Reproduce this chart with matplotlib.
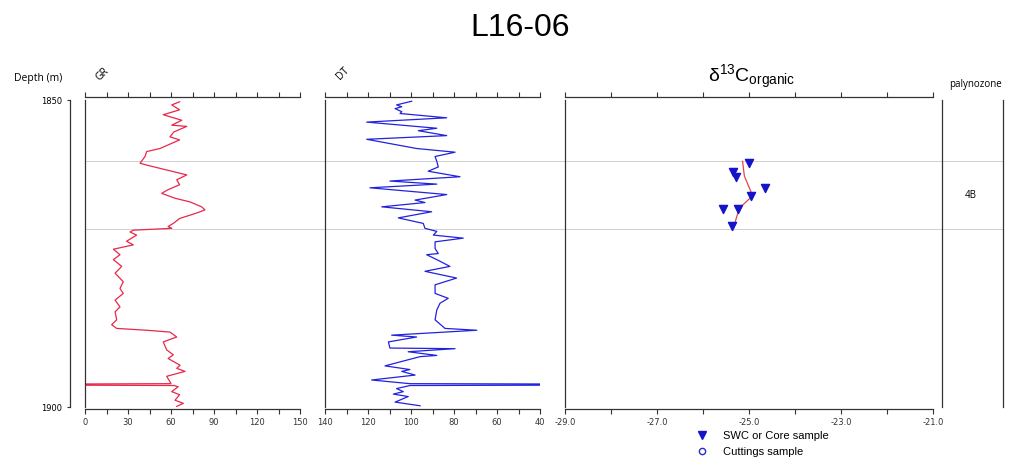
import matplotlib
matplotlib.use('Agg')
import matplotlib.pyplot as plt
from matplotlib.lines import Line2D

# gamma ray log (API) vs depth (m)
gr_depth = [1850.3, 1850.8, 1851.6, 1852.4, 1853.3, 1854.1, 1854.3, 1855.2, 1856.0, 1856.5,
            1857.9, 1858.4, 1859.2, 1860.3, 1860.6, 1861.4, 1862.2, 1863.0, 1863.8, 1864.6,
            1865.2, 1866.0, 1866.6, 1867.4, 1867.9, 1868.4, 1869.3, 1870.1, 1870.6, 1870.9,
            1871.2, 1871.5, 1872.0, 1873.0, 1873.6, 1874.3, 1875.2, 1876.0, 1877.1, 1878.2,
            1879.6, 1880.7, 1881.5, 1882.6, 1883.7, 1884.5, 1885.8, 1886.6, 1887.2, 1887.5,
            1887.8, 1888.6, 1889.4, 1890.7, 1891.5, 1892.1, 1893.2, 1893.7, 1894.2, 1895.0,
            1895.9, 1896.2, 1896.25, 1896.45, 1896.5, 1896.7, 1897.5, 1898.0, 1898.9, 1899.4,
            1899.9]
gr_value = [66, 60.5, 66, 54.6, 67.5, 60.5, 71, 62, 59.3, 66,
            52.3, 43, 41.9, 38.4, 43, 57, 71, 64, 66, 58,
            53.5, 62.8, 73.3, 81.4, 83.7, 78, 66, 61.6, 58, 60.5,
            33.7, 31.4, 36, 29, 33.7, 19.8, 24.4, 19.8, 25.6, 21,
            26.7, 24.4, 26.7, 21, 24.4, 21, 22.1, 18.6, 22.1, 43,
            59.3, 64, 54.6, 57, 61.6, 58, 66.3, 64, 69.8, 57,
            59.3, 60, 0, 0, 62, 65, 60.5, 66, 62.8, 68.6,
            64]

# sonic log (us/ft) vs depth (m)
dt_depth = [1850.2, 1850.8, 1851.1, 1851.4, 1851.9, 1852.2, 1852.9, 1853.6, 1854.6, 1855.0,
            1855.8, 1856.4, 1857.0, 1857.9, 1858.5, 1859.2, 1860.0, 1860.9, 1861.6, 1862.5,
            1863.2, 1863.7, 1864.3, 1865.4, 1866.3, 1866.7, 1867.4, 1868.2, 1869.2, 1870.1,
            1870.9, 1871.4, 1872.0, 1872.5, 1873.1, 1874.2, 1875.0, 1875.2, 1876.0, 1877.1,
            1877.9, 1879.0, 1880.1, 1881.5, 1882.3, 1883.1, 1884.2, 1885.8, 1887.2, 1887.5,
            1888.3, 1888.6, 1889.4, 1890.4, 1890.5, 1891.0, 1891.6, 1891.8, 1893.3, 1893.9,
            1894.2, 1894.8, 1895.6, 1896.2, 1896.25, 1896.45, 1896.5, 1897.0, 1897.5, 1897.9,
            1898.3, 1899.2, 1899.8]
dt_value = [99.7, 106.7, 104.3, 107.4, 104.3, 105.1, 83.4, 120.6, 88, 96.6,
            83.4, 120.6, 111.3, 97.4, 79.5, 88.8, 88, 87.3, 92, 77.2,
            109.8, 88, 119.1, 83.4, 98.1, 93.5, 113.6, 90.4, 105.9, 94.3,
            93.5, 88, 89.6, 75.7, 88.8, 88.8, 87.3, 92.7, 88, 81.9,
            93.5, 78.8, 88.8, 88.8, 82.7, 86.5, 88, 88.8, 84.2, 69.4,
            109, 97.4, 110.5, 109.8, 79.5, 101.3, 88, 95.8, 112.1, 100.5,
            104.3, 98.1, 118.3, 100.5, 40, 40, 100.5, 106.7, 103.6, 108.2,
            101.3, 107.4, 95.8]

# carbon isotopes, SWC / core samples and smoothed trend
swc_depth = [1860.3, 1861.8, 1862.5, 1864.3, 1865.6, 1867.8, 1867.8, 1870.5]
swc_d13c = [-25.0, -25.34, -25.29, -24.65, -24.96, -25.56, -25.25, -25.38]
trend_depth = [1860.0, 1862.4, 1865.6, 1867.6, 1870.6]
trend_d13c = [-25.14, -25.1, -24.92, -25.21, -25.33]

zone_tops = [1860, 1871]
zone_names = ['4B']
zone_mid = [1865.5]

TOP, BOT = 1850, 1900
W, H = 1011, 459
SPINE = '#333333'


def box(x0, x1, y0=100, y1=407):
    return [x0 / W, 1 - y1 / H, (x1 - x0) / W, (y1 - y0) / H]


def log_track(ax, xlim, major, minor, fmt):
    ax.set_ylim(BOT, TOP)
    ax.set_xlim(*xlim)
    ax.patch.set_visible(False)
    ax.spines['right'].set_visible(False)
    ax.spines['top'].set_position(('outward', 2.5))
    ax.spines['bottom'].set_position(('outward', 1.5))
    for s in ax.spines.values():
        s.set_color(SPINE)
        s.set_linewidth(0.9)
    ax.set_yticks([])
    ax.set_xticks(major)
    ax.set_xticks(minor, minor=True)
    ax.set_xticklabels([fmt.format(v) for v in major])
    ax.tick_params(axis='x', which='both', top=True, bottom=True, direction='out',
                   length=3.5, width=0.8, color=SPINE, labelsize=6,
                   labelcolor='#333333', pad=3)


fig = plt.figure(figsize=(W / 100, H / 100), dpi=100)
fig.text(520 / W, 1 - 28 / H, 'L16-06', ha='center', va='center',
         fontsize=23, family='Liberation Sans')

# depth scale
ax_d = fig.add_axes(box(70, 71))
ax_d.set_ylim(BOT, TOP)
ax_d.set_xticks([])
for k in ['top', 'right', 'bottom']:
    ax_d.spines[k].set_visible(False)
ax_d.spines['left'].set_color(SPINE)
ax_d.spines['left'].set_linewidth(0.9)
ax_d.set_yticks([TOP, BOT])
ax_d.tick_params(axis='y', length=2.5, width=0.8, labelsize=6, pad=3, color=SPINE)
fig.text(38 / W, 1 - 79 / H, 'Depth (m)', ha='center', va='center', fontsize=7.5,
         family='Open Sans')

# GR track
ax_gr = fig.add_axes(box(85, 300))
log_track(ax_gr, (0, 150), range(0, 151, 30), range(0, 151, 15), '{:d}')
ax_gr.plot(gr_value, gr_depth, color='#e8284a', lw=0.9)
fig.text(103 / W, 1 - 74 / H, 'GR', rotation=45, ha='center', va='center',
         fontsize=7.5, family='Open Sans')

# DT track, reversed scale
ax_dt = fig.add_axes(box(325, 540))
log_track(ax_dt, (140, 40), range(140, 39, -20), range(140, 39, -10), '{:d}')
ax_dt.plot(dt_value, dt_depth, color='#2222dd', lw=0.9)
fig.text(343 / W, 1 - 74 / H, 'DT', rotation=45, ha='center', va='center',
         fontsize=7.5, family='Open Sans')

# d13C organic track
ax_c = fig.add_axes(box(565, 933))
log_track(ax_c, (-29, -21), [-29, -27, -25, -23, -21], [-29, -28, -27, -26, -25, -24, -23, -22, -21],
          '{:.1f}')
ax_c.plot(trend_d13c, trend_depth, color='#e04848', lw=0.9, zorder=2)
ax_c.scatter(swc_d13c, swc_depth, marker='v', s=34, color='#1414c8', zorder=3)
fig.text(752 / W, 1 - 77 / H, r'$\mathregular{\delta^{13}C_{organic}}$', ha='center',
         va='center', fontsize=14, family='Liberation Sans')

# palynozone column
ax_p = fig.add_axes(box(942, 1003))
ax_p.set_ylim(BOT, TOP)
ax_p.set_xlim(0, 1)
ax_p.set_xticks([])
ax_p.set_yticks([])
ax_p.patch.set_visible(False)
for k in ['top', 'bottom']:
    ax_p.spines[k].set_visible(False)
for k in ['left', 'right']:
    ax_p.spines[k].set_color(SPINE)
    ax_p.spines[k].set_linewidth(0.9)
for name, d in zip(zone_names, zone_mid):
    ax_p.text(0.47, d, name, ha='center', va='center', fontsize=7, family='Open Sans')
fig.text(975 / W, 1 - 85 / H, 'palynozone', ha='center', va='center', fontsize=7,
         family='Open Sans')

# zone boundaries run across all tracks
ax_z = fig.add_axes(box(85, 1003), zorder=-1)
ax_z.set_ylim(BOT, TOP)
ax_z.axis('off')
for d in zone_tops:
    ax_z.axhline(d, color='#d0d0d0', lw=0.7)

handles = [Line2D([], [], marker='v', ls='none', color='#1414c8', markersize=6),
           Line2D([], [], marker='o', ls='none', markerfacecolor='none',
                  markeredgecolor='#2a2ad0', markersize=4.5)]
fig.legend(handles, ['SWC or Core sample', 'Cuttings sample'], loc='center left',
           bbox_to_anchor=(681 / W, 1 - 444 / H), frameon=False,
           handletextpad=0.9, labelspacing=0.55, prop={'family': 'Liberation Sans', 'size': 8})

fig.savefig('out.png', dpi=100)
